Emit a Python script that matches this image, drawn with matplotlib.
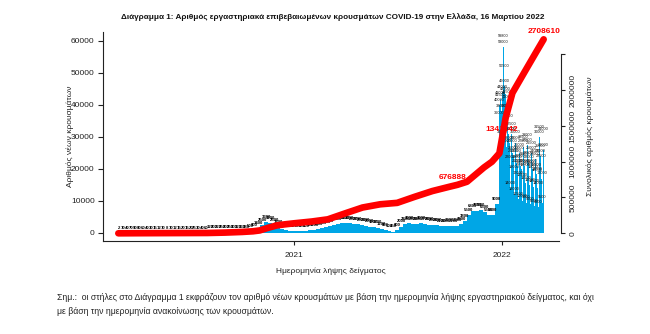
import matplotlib
matplotlib.use('Agg')
import matplotlib.pyplot as plt
import numpy as np
import pandas as pd

plt.rcParams['font.family'] = ['Liberation Sans', 'DejaVu Sans']

# ---------------- data ----------------
# weekly average of new cases by sampling date, weeks starting 2020-02-24
weekly_start = '2020-02-24'
weekly_cases = [
    2, 10, 40, 70, 90, 80, 60, 40, 30, 15, 12, 10, 8, 10, 12, 15, 20, 15, 20,
    25, 30, 40, 60, 120, 200, 220, 250, 200, 250, 300, 320, 330, 380, 500, 800,
    1400, 2500, 3300, 3200, 2500, 1800, 1300, 900, 700, 600,
    700, 650, 600, 800, 1000, 1300, 1500, 1800, 2200, 2600, 2800, 3000, 3100,
    3000, 2800, 2700, 2500, 2300, 2000, 1900, 1700, 1200, 800, 500, 450, 800,
    2000, 2800, 3000, 2800, 2900, 3000, 2700, 2600, 2500, 2400, 2100, 2200,
    2300, 2200, 2300, 2800, 3800, 5500, 6800, 7000, 7200, 6500, 5500, 5500, 9000,
]
# daily new cases by sampling date, from 2021-12-27
daily_start = '2021-12-27'
daily_cases = [
    36000, 40000, 42000, 41500, 38000,
    30000, 44000, 59800, 58000, 50500, 46000, 43500, 38000, 27000, 42500,
    41000, 35000, 31000, 28000, 22000, 14000, 32500, 31000, 27000, 25000,
    24000, 19000, 12000, 30000, 28000, 24000, 22000, 21000, 17000, 10500, 26000,
    25000, 22500, 21000, 20000, 16500, 10000, 28500, 27000, 23000, 21000,
    19500, 15500, 9500, 29000, 27500, 23500, 22000, 20500, 15000, 9000,
    26500, 25000, 21000, 20000, 19000, 14500, 8500, 24000,
    23000, 19500, 18500, 18000, 14000, 8000, 31500, 30000, 25500, 24000,
    22500, 17000, 9500, 31000, 26000,
]
# cumulative number of cases
cum_dates = [
    '2020-02-26', '2020-04-01', '2020-06-01', '2020-08-01', '2020-09-01',
    '2020-10-01', '2020-10-20', '2020-11-01', '2020-11-15', '2020-12-01',
    '2020-12-15', '2021-01-01', '2021-02-01', '2021-03-01', '2021-04-01',
    '2021-05-01', '2021-06-01', '2021-07-01', '2021-08-01', '2021-09-01',
    '2021-10-01', '2021-10-15', '2021-11-01', '2021-12-01', '2021-12-15',
    '2021-12-28', '2022-01-02', '2022-01-08', '2022-01-20', '2022-02-12',
    '2022-03-02', '2022-03-16',
]
cum_values = [
    0, 1300, 3000, 4500, 10000, 19000, 28000, 40000, 75000, 110000, 125000,
    140000, 165000, 195000, 280000, 360000, 405000, 425000, 510000, 590000,
    650000, 676888, 720000, 920000, 1000000, 1117000, 1341142, 1610000,
    1960000, 2275000, 2520000, 2708610,
]
label_dates = ['2021-10-15', '2022-01-02', '2022-03-16']
label_values = [676888, 1341142, 2708610]

title = ('Διάγραμμα 1: Αριθμός εργαστηριακά επιβεβαιωμένων κρουσμάτων '
         'COVID-19 στην Ελλάδα, 16 Μαρτίου 2022')
xlabel = 'Ημερομηνία λήψης δείγματος'
ylabel_left = 'Αριθμός νέων κρουσμάτων'
ylabel_right = 'Συνολικός αριθμός κρουσμάτων'
note1 = ('Σημ.:  οι στήλες στο Διάγραμμα 1 εκφράζουν τον αριθμό νέων κρουσμάτων '
         'με βάση την ημερομηνία λήψης εργαστηριακού δείγματος, και όχι')
note2 = 'με βάση την ημερομηνία ανακοίνωσης των κρουσμάτων.'

# ---------------- figure ----------------
BLUE = '#00A6E6'
W, H = 650, 334
fig = plt.figure(figsize=(W / 100, H / 100), dpi=100)
fig.patch.set_facecolor('white')

L, R, B, T = 103, 559, 241, 32
ax = fig.add_axes([L / W, 1 - B / H, (R - L) / W, (B - T) / H])

wk_dates = pd.date_range(weekly_start, periods=len(weekly_cases), freq='7D')
dy_dates = pd.date_range(daily_start, periods=len(daily_cases), freq='D')

ax.bar(wk_dates, weekly_cases, width=7, align='edge', color=BLUE, linewidth=0)
ax.bar(dy_dates, daily_cases, width=1.0, align='edge', color=BLUE, linewidth=0)

# tiny value labels above each bar
for d, v in zip(wk_dates, weekly_cases):
    ax.text(d + pd.Timedelta(days=3.5), v + 1000, str(v), fontsize=3.1,
            fontweight='bold', ha='center', va='bottom', color='black')
for d, v in zip(dy_dates, daily_cases):
    ax.text(d + pd.Timedelta(days=0.5), v + 1000, str(v), fontsize=2.8,
            ha='center', va='bottom', color='#111111')

ax.set_xlim(pd.Timestamp('2020-01-30'), pd.Timestamp('2022-04-12'))
ax.set_ylim(-2500, 62800)
ax.set_yticks(range(0, 60001, 10000))
ax.set_yticklabels([str(v) for v in range(0, 60001, 10000)])
ax.set_xticks([pd.Timestamp('2021-01-01'), pd.Timestamp('2022-01-01')])
ax.set_xticklabels(['2021', '2022'])
ax.tick_params(axis='y', labelsize=6, length=3.5, pad=2.5, colors='#222222')
ax.tick_params(axis='x', labelsize=6, length=3, pad=5, colors='#222222')
for s in ['top', 'right']:
    ax.spines[s].set_visible(False)
for s in ['left', 'bottom']:
    ax.spines[s].set_linewidth(0.8)
    ax.spines[s].set_color('#222222')

# cumulative line on secondary axis
ax2 = ax.twinx()
ax2.set_ylim(-107500, 2811000)
cdates = pd.to_datetime(cum_dates)
ax2.plot(cdates, cum_values, color='#FF0000', lw=4.8, solid_capstyle='round',
         solid_joinstyle='round', zorder=5)
offsets = [(-3.6, 5.6), (0, 5.8), (0, 5.3)]
for d, v, off in zip(label_dates, label_values, offsets):
    ax2.annotate(str(v), (pd.Timestamp(d), v), xytext=off,
                 textcoords='offset points', ha='center', va='center',
                 color='#FF0000', fontsize=6, fontweight='bold', zorder=6)
for s in ['top', 'left', 'bottom']:
    ax2.spines[s].set_visible(False)
ax2.spines['right'].set_bounds(0, 2500000)
ax2.spines['right'].set_position(('outward', 1.5))
ax2.spines['right'].set_linewidth(0.8)
ax2.spines['right'].set_color('#222222')
rt = [0, 500000, 1000000, 1500000, 2000000, 2500000]
ax2.set_yticks(rt)
ax2.set_yticklabels(['0', '500000', '1000000', '1500000', '2000000', ''],
                    rotation=90, va='center')
ax2.tick_params(axis='y', labelsize=6, length=3, pad=3, colors='#222222')
ax2.set_xlim(ax.get_xlim())

# texts
fig.text(333 / W, 1 - 17 / H, title, ha='center', va='center', fontsize=5.9,
         fontweight='bold', color='#111111')
fig.text(331 / W, 1 - 271.7 / H, xlabel, ha='center', va='center', fontsize=6,
         color='#222222')
fig.text(70 / W, 1 - 136.5 / H, ylabel_left, ha='center', va='center',
         rotation=90, fontsize=6, color='#222222')
fig.text(590 / W, 1 - 136.5 / H, ylabel_right, ha='center', va='center',
         rotation=90, fontsize=6, color='#222222')
fig.text(57 / W, 1 - 297 / H, note1, ha='left', va='center', fontsize=6.25,
         color='#222222')
fig.text(57 / W, 1 - 312 / H, note2, ha='left', va='center', fontsize=6.25,
         color='#222222')

fig.savefig('out.png', dpi=100, facecolor='white')
